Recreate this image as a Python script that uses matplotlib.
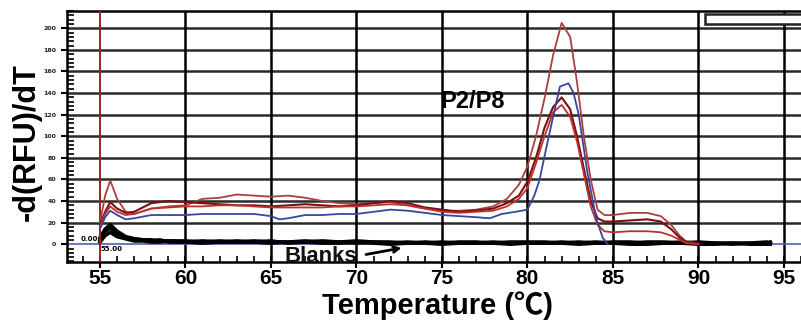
import matplotlib
matplotlib.use("Agg")
import matplotlib.pyplot as plt
from matplotlib.ticker import MultipleLocator
from matplotlib.patches import Rectangle

# melt curves
xa = [55.0, 55.3, 55.6, 56.0, 56.5, 57.0, 58.0, 59.0, 60.0, 61.0, 62.0, 63.0, 64.0, 65.0, 66.0, 67.0,
      68.0, 69.0, 70.0, 71.0, 72.0, 73.0, 74.0, 75.0, 76.0, 77.0, 78.0, 78.8, 79.5, 80.0, 80.5, 81.0,
      81.5, 82.0, 82.5, 82.9, 83.3, 83.7, 84.1, 84.5, 85.0, 86.0, 87.0, 87.8, 88.4, 88.9, 89.3, 90.0]
ya = [20, 45, 59, 42, 30, 28, 33, 35, 36, 42, 43, 46, 45, 44, 45, 43,
      40, 38, 37, 38, 39, 36, 33, 31, 31, 32, 35, 42, 55, 72, 100, 135,
      175, 205, 192, 150, 100, 60, 32, 27, 27, 29, 29, 26, 18, 8, 2, 1]
yc = [18, 30, 39, 33, 29, 30, 38, 40, 39, 38, 37, 36, 36, 35, 36, 37,
      36, 35, 36, 38, 40, 38, 34, 32, 30, 31, 33, 38, 45, 58, 80, 108,
      127, 136, 125, 100, 70, 40, 24, 21, 21, 22, 23, 21, 14, 6, 2, 1]
yd = [16, 28, 35, 30, 27, 28, 33, 34, 35, 35, 36, 36, 35, 34, 34, 34,
      34, 35, 35, 36, 37, 36, 33, 30, 29, 30, 31, 35, 42, 52, 75, 100,
      122, 129, 118, 95, 65, 35, 18, 12, 11, 12, 12, 11, 8, 4, 1, 0]

xb = [55.0, 55.3, 55.6, 56.0, 56.5, 57.0, 58.0, 59.0, 60.0, 61.0, 62.0, 63.0, 64.0, 65.0, 65.5, 66.0,
      67.0, 68.0, 69.0, 70.0, 71.0, 72.0, 73.0, 74.0, 75.0, 76.0, 77.0, 77.8, 78.5, 79.3, 80.0, 80.4,
      80.7, 81.1, 81.5, 81.9, 82.4, 82.7, 83.0, 83.5, 84.0, 84.4, 84.7]
yb = [14, 25, 31, 27, 23, 24, 27, 27, 27, 28, 28, 28, 28, 26, 23, 24,
      27, 27, 28, 28, 30, 32, 31, 29, 27, 26, 25, 24, 28, 30, 32, 45,
      59, 89, 118, 146, 149, 140, 120, 67, 25, 6, 0]

blank_x = [55.0, 55.3, 55.6, 56.0, 56.5, 57.0, 57.5, 58.0, 58.5, 59.0, 60.0, 61.0, 62.0, 63.0, 64.0, 65.0,
           66.0, 67.0, 68.0, 69.0, 70.0, 71.0, 72.0, 73.0, 74.0, 75.0, 76.0, 77.0, 78.0, 79.0, 80.0, 81.0,
           82.0, 83.0, 84.0, 85.0, 86.0, 87.0, 88.0, 89.0, 90.0, 91.0, 92.0, 93.0, 94.0, 94.2]
blank1 = [4, 12, 15, 9, 6, 5, 4, 4, 3, 3, 3, 2, 3, 2, 3, 2,
          2, 3, 2, 2, 3, 2, 2, 1, 2, 1, 2, 2, 1, 2, 2, 2,
          1, 2, 1, 2, 2, 1, 1, 2, 1, 1, 1, 1, 2, 1]
blank2 = [2, 8, 11, 7, 5, 3, 3, 2, 2, 3, 2, 1, 2, 3, 2, 1,
          2, 2, 1, 1, 2, 1, 0, 1, 1, 0, 1, 1, 1, 0, 1, 1,
          1, 0, 1, 1, 0, 0, 1, 1, 0, 0, 1, 0, 0, 0]
blank3 = [6, 14, 18, 12, 7, 5, 4, 3, 4, 2, 2, 3, 2, 2, 2, 3,
          1, 2, 3, 2, 1, 2, 1, 2, 1, 2, 1, 1, 2, 1, 1, 1,
          2, 1, 2, 1, 1, 2, 2, 1, 2, 1, 0, 1, 1, 2]

xticks = [55, 60, 65, 70, 75, 80, 85, 90, 95]
yticks = [0, 20, 40, 60, 80, 100, 120, 140, 160, 180, 200]

fig = plt.figure(figsize=(8.01, 3.23), dpi=100)
ax = fig.add_axes([67 / 801, 1 - 262 / 323, 1 - 67 / 801, 251 / 323])
ax.set_xlim(53.07, 96.0)
ax.set_ylim(-16.5, 216)

# grid
for t in yticks[1:]:
    ax.axhline(t, color="#2a2a2a", lw=1.8, zorder=1)
for t in xticks[1:]:
    ax.axvline(t, color="black", lw=1.8, zorder=1)
ax.axvline(55, color="#a02020", lw=1.4, zorder=4)
ax.axhline(0, color="#5060b0", lw=1.2, zorder=2)

ax.add_patch(Rectangle((90.4, 204), 6, 9, facecolor="white", edgecolor="#222222", lw=1.8, zorder=3))

for by in (blank1, blank2, blank3):
    ax.plot(blank_x, by, color="black", lw=2.6, zorder=3)
ax.plot(xa, ya, color="#a84040", lw=1.3, zorder=5)
ax.plot(xa, yc, color="#7a1010", lw=1.5, zorder=5)
ax.plot(xa, yd, color="#c03030", lw=1.3, zorder=5)
ax.plot(xb, yb, color="#3a45a0", lw=1.3, zorder=5)

ax.text(74.9, 132, "P2/P8", fontsize=17, fontweight="bold", va="center", ha="left",
        family=["Liberation Sans", "DejaVu Sans"], zorder=6)
ax.text(65.8, -11, "Blanks", fontsize=16, fontweight="bold", va="center", ha="left",
        family=["Liberation Sans", "DejaVu Sans"], color="#111111", zorder=6, clip_on=False)
ax.annotate("", xy=(72.8, -3), xytext=(70.4, -10),
            arrowprops=dict(arrowstyle="->", color="black", lw=2), zorder=6)
ax.text(54.9, 2, "0.00", fontsize=5, fontweight="bold", ha="right", va="bottom")
ax.text(55.05, -2, "55.00", fontsize=5, fontweight="bold", ha="left", va="top")

# axes
ax.spines["right"].set_visible(False)
for s in ("left", "top", "bottom"):
    ax.spines[s].set_linewidth(1.8)
ax.set_xticks(xticks)
ax.xaxis.set_minor_locator(MultipleLocator(1))
ax.set_yticks(yticks)
ax.yaxis.set_minor_locator(MultipleLocator(4))
ax.tick_params(axis="x", which="major", direction="inout", length=8, width=1.5, pad=1)
ax.tick_params(axis="x", which="minor", direction="in", length=4, width=1.2)
ax.tick_params(axis="y", which="major", direction="out", length=4, width=1.5, pad=4)
ax.tick_params(axis="y", which="minor", direction="in", length=5, width=1.2)
ax.set_xticklabels([str(t) for t in xticks], fontsize=15, fontweight="bold",
                   family=["Liberation Sans", "DejaVu Sans"])
ax.set_yticklabels([str(t) for t in yticks], fontsize=4.5, fontweight="bold", color="#1a2a1a")

fig.text(438 / 801, 1 - 306 / 323, "Temperature (\u2103)", fontsize=21, fontweight="bold",
         family=["Liberation Sans", "Noto Sans CJK SC"], ha="center", va="center")
fig.text(27 / 801, 1 - 142 / 323, "-d(RFU)/dT", fontsize=22, fontweight="bold", rotation=90,
         family=["Liberation Sans", "DejaVu Sans"], ha="center", va="center")

fig.savefig("out.png", dpi=100)
